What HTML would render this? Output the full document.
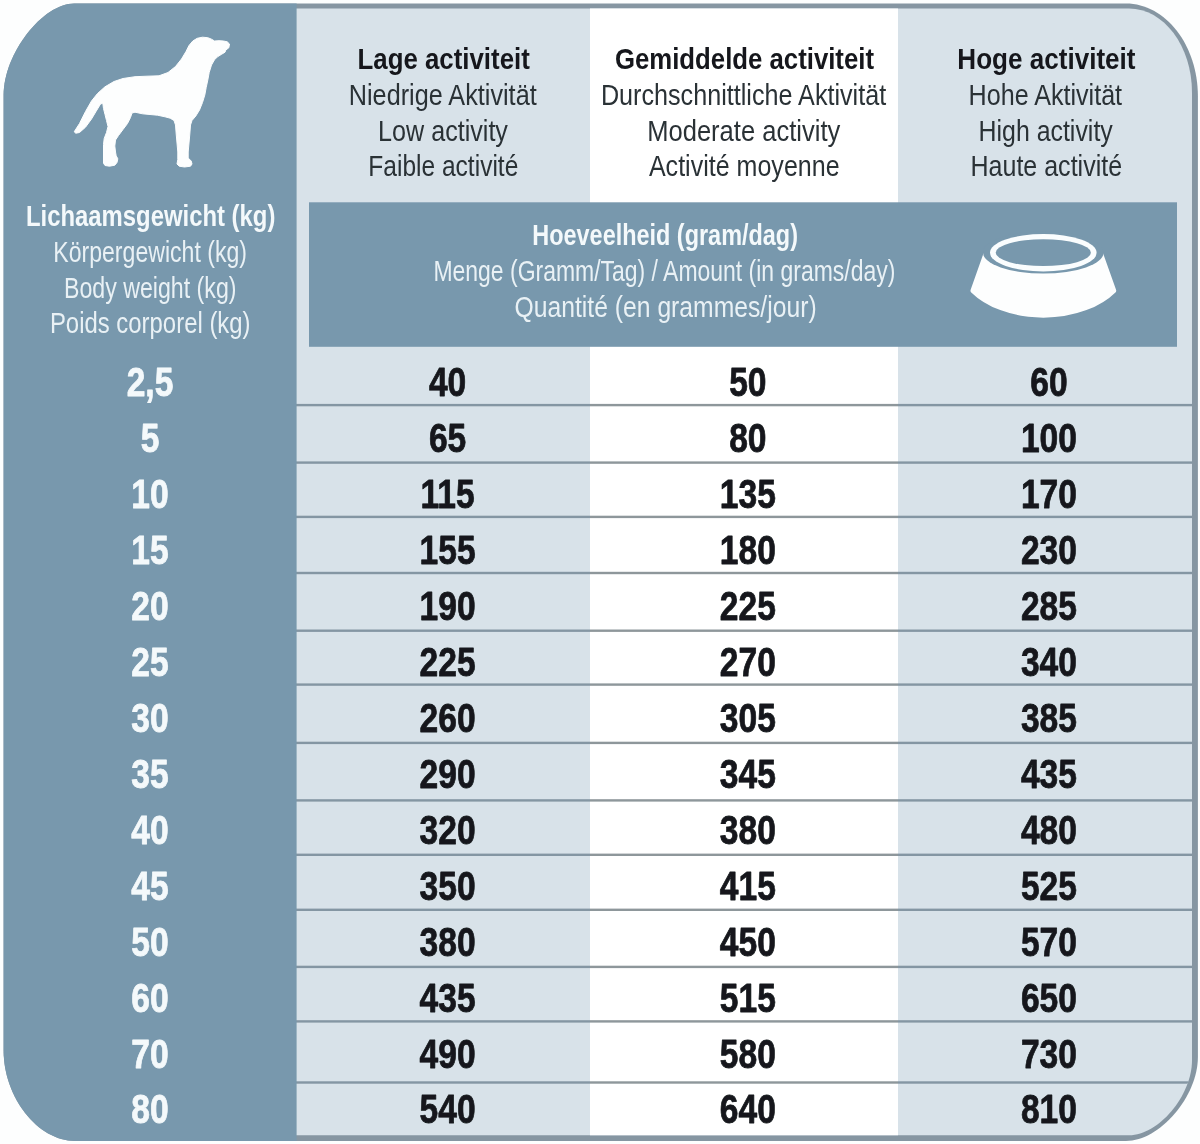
<!DOCTYPE html>
<html><head><meta charset="utf-8"><title>Voedingstabel</title>
<style>html,body{margin:0;padding:0;background:#fdfefe;overflow:hidden;}svg{display:block;font-family:"Liberation Sans",sans-serif;}</style></head><body>
<svg width="1200" height="1144" viewBox="0 0 1200 1144">
<defs><filter id="soft" x="0" y="0" width="1200" height="1144" filterUnits="userSpaceOnUse"><feGaussianBlur stdDeviation="0.55"/></filter></defs>
<g filter="url(#soft)">
<defs><clipPath id="po"><path d="M74.30 3.40 H1125.90 C1165.64 3.40 1197.90 45.06 1197.90 96.40 V1056.90 C1197.90 1096.38 1159.74 1140.90 1125.90 1140.90 H74.90 C37.82 1140.90 3.60 1097.36 3.60 1050.20 V94.90 C3.60 53.73 42.48 3.40 74.30 3.40 Z"/></clipPath><clipPath id="pi"><path d="M70.40 8.50 H1129.00 C1163.78 8.50 1192.00 46.13 1192.00 92.50 V1060.30 C1192.00 1095.55 1158.61 1135.30 1129.00 1135.30 H71.00 C38.60 1135.30 8.70 1096.08 8.70 1053.60 V91.00 C8.70 53.88 42.64 8.50 70.40 8.50 Z"/></clipPath></defs>
<rect width="1200" height="1144" fill="#fdfefe"/>
<path d="M74.30 3.40 H1125.90 C1165.64 3.40 1197.90 45.06 1197.90 96.40 V1056.90 C1197.90 1096.38 1159.74 1140.90 1125.90 1140.90 H74.90 C37.82 1140.90 3.60 1097.36 3.60 1050.20 V94.90 C3.60 53.73 42.48 3.40 74.30 3.40 Z" fill="#8696a2"/>
<g clip-path="url(#pi)">
<rect x="0" y="0" width="1200" height="1144" fill="#d8e2e9"/>
<rect x="590" y="0" width="308" height="1144" fill="#ffffff"/>
<rect x="290" y="403.90" width="300" height="2.4" fill="#8496a3"/>
<rect x="590" y="403.90" width="308" height="2.4" fill="#8e979b"/>
<rect x="898" y="403.90" width="310" height="2.4" fill="#8496a3"/>
<rect x="290" y="461.40" width="300" height="2.4" fill="#8496a3"/>
<rect x="590" y="461.40" width="308" height="2.4" fill="#8e979b"/>
<rect x="898" y="461.40" width="310" height="2.4" fill="#8496a3"/>
<rect x="290" y="515.70" width="300" height="2.4" fill="#8496a3"/>
<rect x="590" y="515.70" width="308" height="2.4" fill="#8e979b"/>
<rect x="898" y="515.70" width="310" height="2.4" fill="#8496a3"/>
<rect x="290" y="571.80" width="300" height="2.4" fill="#8496a3"/>
<rect x="590" y="571.80" width="308" height="2.4" fill="#8e979b"/>
<rect x="898" y="571.80" width="310" height="2.4" fill="#8496a3"/>
<rect x="290" y="629.50" width="300" height="2.4" fill="#8496a3"/>
<rect x="590" y="629.50" width="308" height="2.4" fill="#8e979b"/>
<rect x="898" y="629.50" width="310" height="2.4" fill="#8496a3"/>
<rect x="290" y="683.40" width="300" height="2.4" fill="#8496a3"/>
<rect x="590" y="683.40" width="308" height="2.4" fill="#8e979b"/>
<rect x="898" y="683.40" width="310" height="2.4" fill="#8496a3"/>
<rect x="290" y="741.70" width="300" height="2.4" fill="#8496a3"/>
<rect x="590" y="741.70" width="308" height="2.4" fill="#8e979b"/>
<rect x="898" y="741.70" width="310" height="2.4" fill="#8496a3"/>
<rect x="290" y="799.20" width="300" height="2.4" fill="#8496a3"/>
<rect x="590" y="799.20" width="308" height="2.4" fill="#8e979b"/>
<rect x="898" y="799.20" width="310" height="2.4" fill="#8496a3"/>
<rect x="290" y="853.60" width="300" height="2.4" fill="#8496a3"/>
<rect x="590" y="853.60" width="308" height="2.4" fill="#8e979b"/>
<rect x="898" y="853.60" width="310" height="2.4" fill="#8496a3"/>
<rect x="290" y="908.60" width="300" height="2.4" fill="#8496a3"/>
<rect x="590" y="908.60" width="308" height="2.4" fill="#8e979b"/>
<rect x="898" y="908.60" width="310" height="2.4" fill="#8496a3"/>
<rect x="290" y="965.70" width="300" height="2.4" fill="#8496a3"/>
<rect x="590" y="965.70" width="308" height="2.4" fill="#8e979b"/>
<rect x="898" y="965.70" width="310" height="2.4" fill="#8496a3"/>
<rect x="290" y="1020.20" width="300" height="2.4" fill="#8496a3"/>
<rect x="590" y="1020.20" width="308" height="2.4" fill="#8e979b"/>
<rect x="898" y="1020.20" width="310" height="2.4" fill="#8496a3"/>
<rect x="290" y="1081.30" width="300" height="2.4" fill="#8496a3"/>
<rect x="590" y="1081.30" width="308" height="2.4" fill="#8e979b"/>
<rect x="898" y="1081.30" width="310" height="2.4" fill="#8496a3"/>
<rect x="309" y="202.3" width="868" height="144.5" fill="#7898ad"/>
</g>
<g clip-path="url(#po)"><rect x="0" y="0" width="296.6" height="1144" fill="#7898ad"/></g>
<polygon points="74.2,131.8 79.5,123.5 85.5,111.5 91.5,101.0 97.5,93.5 105.0,86.8 114.0,81.5 123.0,78.5 135.0,76.7 147.0,76.2 159.0,75.8 168.0,72.5 175.5,66.5 181.5,59.0 186.0,51.5 189.0,45.5 192.8,41.0 197.2,38.3 202.5,37.2 207.8,37.7 211.5,39.2 214.5,41.0 219.0,40.7 223.5,41.0 227.2,41.8 229.5,44.0 228.8,47.8 225.8,50.0 225.0,52.2 221.2,54.5 217.5,56.8 214.5,59.8 211.5,65.0 209.2,72.5 207.8,80.0 206.2,87.5 204.8,95.0 202.5,102.5 199.5,110.0 195.8,116.0 192.0,120.5 190.5,125.0 189.8,134.0 189.0,143.0 188.2,152.0 188.2,158.0 191.2,161.0 192.0,164.0 190.5,166.2 184.5,167.0 179.2,166.2 177.0,164.0 177.8,159.5 177.8,152.0 177.0,143.0 176.2,134.0 175.5,125.0 174.0,120.5 170.2,118.2 165.0,116.8 157.5,115.2 150.0,114.5 142.5,113.8 135.0,112.2 132.0,113.0 130.5,117.5 127.5,123.5 123.0,129.5 118.5,135.5 115.5,140.0 114.8,146.0 115.5,152.0 116.2,155.8 117.8,158.8 117.0,162.5 114.8,165.2 109.5,166.2 105.0,165.5 103.5,163.2 103.5,158.0 103.5,152.0 103.5,144.5 104.2,138.5 106.5,132.5 108.0,126.5 106.5,120.5 105.0,114.5 103.5,108.5 102.8,103.2 100.5,104.0 96.0,111.5 91.5,119.0 85.5,127.2 79.5,132.5 75.8,133.2" fill="#fdfefe" stroke="#fdfefe" stroke-width="1" stroke-linejoin="round"/>
<path d="M987 251 L973 290.6 A 84.5 55 0 0 0 1113.7 290.6 L1099.6 251 Z" fill="#fdfefe" stroke="#fdfefe" stroke-width="5" stroke-linejoin="round"/>
<ellipse cx="1043.3" cy="252.4" rx="60.3" ry="21.2" fill="#7898ad"/>
<ellipse cx="1043.3" cy="252.7" rx="53.3" ry="18.7" fill="#fafdfe"/>
<ellipse cx="1043.3" cy="252.7" rx="47.6" ry="13.4" fill="#7898ad"/>
<text transform="translate(357.52 68.80) scale(0.8759 1)" font-size="29.50" font-weight="bold" fill="#14181b">Lage activiteit</text>
<text transform="translate(348.79 104.90) scale(0.8556 1)" font-size="29.50" fill="#293036">Niedrige Aktivität</text>
<text transform="translate(378.10 140.50) scale(0.8519 1)" font-size="29.50" fill="#293036">Low activity</text>
<text transform="translate(368.34 176.00) scale(0.8317 1)" font-size="29.50" fill="#293036">Faible activité</text>
<text transform="translate(614.93 68.80) scale(0.8733 1)" font-size="29.50" font-weight="bold" fill="#14181b">Gemiddelde activiteit</text>
<text transform="translate(600.89 104.90) scale(0.8536 1)" font-size="29.50" fill="#293036">Durchschnittliche Aktivität</text>
<text transform="translate(647.17 140.50) scale(0.8665 1)" font-size="29.50" fill="#293036">Moderate activity</text>
<text transform="translate(648.90 176.00) scale(0.8491 1)" font-size="29.50" fill="#293036">Activité moyenne</text>
<text transform="translate(957.32 68.80) scale(0.8844 1)" font-size="29.50" font-weight="bold" fill="#14181b">Hoge activiteit</text>
<text transform="translate(968.60 104.90) scale(0.8515 1)" font-size="29.50" fill="#293036">Hohe Aktivität</text>
<text transform="translate(978.51 140.50) scale(0.8444 1)" font-size="29.50" fill="#293036">High activity</text>
<text transform="translate(970.50 176.00) scale(0.8484 1)" font-size="29.50" fill="#293036">Haute activité</text>
<text transform="translate(25.99 225.80) scale(0.8095 1)" font-size="29.50" font-weight="bold" fill="#f4f9fb">Lichaamsgewicht (kg)</text>
<text transform="translate(53.23 261.50) scale(0.7832 1)" font-size="29.50" fill="#e9f1f5">Körpergewicht (kg)</text>
<text transform="translate(63.93 297.70) scale(0.7861 1)" font-size="29.50" fill="#e9f1f5">Body weight (kg)</text>
<text transform="translate(49.88 333.10) scale(0.8111 1)" font-size="29.50" fill="#e9f1f5">Poids corporel (kg)</text>
<text transform="translate(532.31 244.50) scale(0.7950 1)" font-size="29.50" font-weight="bold" fill="#f4f9fb">Hoeveelheid (gram/dag)</text>
<text transform="translate(433.44 280.80) scale(0.7787 1)" font-size="29.50" fill="#e9f1f5">Menge (Gramm/Tag) / Amount (in grams/day)</text>
<text transform="translate(514.56 316.80) scale(0.8377 1)" font-size="29.50" fill="#e9f1f5">Quantité (en grammes/jour)</text>
<text transform="translate(150.00 396.00) scale(0.8250 1)" font-size="40.70" font-weight="bold" fill="#f4f9fb" text-anchor="middle" stroke="#f4f9fb" stroke-width="0.8" stroke-linejoin="round">2,5</text>
<text transform="translate(447.60 396.00) scale(0.8250 1)" font-size="40.70" font-weight="bold" fill="#14181b" text-anchor="middle" stroke="#14181b" stroke-width="0.8" stroke-linejoin="round">40</text>
<text transform="translate(747.80 396.00) scale(0.8250 1)" font-size="40.70" font-weight="bold" fill="#14181b" text-anchor="middle" stroke="#14181b" stroke-width="0.8" stroke-linejoin="round">50</text>
<text transform="translate(1048.90 396.00) scale(0.8250 1)" font-size="40.70" font-weight="bold" fill="#14181b" text-anchor="middle" stroke="#14181b" stroke-width="0.8" stroke-linejoin="round">60</text>
<text transform="translate(150.00 451.96) scale(0.8250 1)" font-size="40.70" font-weight="bold" fill="#f4f9fb" text-anchor="middle" stroke="#f4f9fb" stroke-width="0.8" stroke-linejoin="round">5</text>
<text transform="translate(447.60 451.96) scale(0.8250 1)" font-size="40.70" font-weight="bold" fill="#14181b" text-anchor="middle" stroke="#14181b" stroke-width="0.8" stroke-linejoin="round">65</text>
<text transform="translate(747.80 451.96) scale(0.8250 1)" font-size="40.70" font-weight="bold" fill="#14181b" text-anchor="middle" stroke="#14181b" stroke-width="0.8" stroke-linejoin="round">80</text>
<text transform="translate(1048.90 451.96) scale(0.8250 1)" font-size="40.70" font-weight="bold" fill="#14181b" text-anchor="middle" stroke="#14181b" stroke-width="0.8" stroke-linejoin="round">100</text>
<text transform="translate(150.00 507.92) scale(0.8250 1)" font-size="40.70" font-weight="bold" fill="#f4f9fb" text-anchor="middle" stroke="#f4f9fb" stroke-width="0.8" stroke-linejoin="round">10</text>
<text transform="translate(447.60 507.92) scale(0.8250 1)" font-size="40.70" font-weight="bold" fill="#14181b" text-anchor="middle" stroke="#14181b" stroke-width="0.8" stroke-linejoin="round">115</text>
<text transform="translate(747.80 507.92) scale(0.8250 1)" font-size="40.70" font-weight="bold" fill="#14181b" text-anchor="middle" stroke="#14181b" stroke-width="0.8" stroke-linejoin="round">135</text>
<text transform="translate(1048.90 507.92) scale(0.8250 1)" font-size="40.70" font-weight="bold" fill="#14181b" text-anchor="middle" stroke="#14181b" stroke-width="0.8" stroke-linejoin="round">170</text>
<text transform="translate(150.00 563.88) scale(0.8250 1)" font-size="40.70" font-weight="bold" fill="#f4f9fb" text-anchor="middle" stroke="#f4f9fb" stroke-width="0.8" stroke-linejoin="round">15</text>
<text transform="translate(447.60 563.88) scale(0.8250 1)" font-size="40.70" font-weight="bold" fill="#14181b" text-anchor="middle" stroke="#14181b" stroke-width="0.8" stroke-linejoin="round">155</text>
<text transform="translate(747.80 563.88) scale(0.8250 1)" font-size="40.70" font-weight="bold" fill="#14181b" text-anchor="middle" stroke="#14181b" stroke-width="0.8" stroke-linejoin="round">180</text>
<text transform="translate(1048.90 563.88) scale(0.8250 1)" font-size="40.70" font-weight="bold" fill="#14181b" text-anchor="middle" stroke="#14181b" stroke-width="0.8" stroke-linejoin="round">230</text>
<text transform="translate(150.00 619.84) scale(0.8250 1)" font-size="40.70" font-weight="bold" fill="#f4f9fb" text-anchor="middle" stroke="#f4f9fb" stroke-width="0.8" stroke-linejoin="round">20</text>
<text transform="translate(447.60 619.84) scale(0.8250 1)" font-size="40.70" font-weight="bold" fill="#14181b" text-anchor="middle" stroke="#14181b" stroke-width="0.8" stroke-linejoin="round">190</text>
<text transform="translate(747.80 619.84) scale(0.8250 1)" font-size="40.70" font-weight="bold" fill="#14181b" text-anchor="middle" stroke="#14181b" stroke-width="0.8" stroke-linejoin="round">225</text>
<text transform="translate(1048.90 619.84) scale(0.8250 1)" font-size="40.70" font-weight="bold" fill="#14181b" text-anchor="middle" stroke="#14181b" stroke-width="0.8" stroke-linejoin="round">285</text>
<text transform="translate(150.00 675.80) scale(0.8250 1)" font-size="40.70" font-weight="bold" fill="#f4f9fb" text-anchor="middle" stroke="#f4f9fb" stroke-width="0.8" stroke-linejoin="round">25</text>
<text transform="translate(447.60 675.80) scale(0.8250 1)" font-size="40.70" font-weight="bold" fill="#14181b" text-anchor="middle" stroke="#14181b" stroke-width="0.8" stroke-linejoin="round">225</text>
<text transform="translate(747.80 675.80) scale(0.8250 1)" font-size="40.70" font-weight="bold" fill="#14181b" text-anchor="middle" stroke="#14181b" stroke-width="0.8" stroke-linejoin="round">270</text>
<text transform="translate(1048.90 675.80) scale(0.8250 1)" font-size="40.70" font-weight="bold" fill="#14181b" text-anchor="middle" stroke="#14181b" stroke-width="0.8" stroke-linejoin="round">340</text>
<text transform="translate(150.00 731.76) scale(0.8250 1)" font-size="40.70" font-weight="bold" fill="#f4f9fb" text-anchor="middle" stroke="#f4f9fb" stroke-width="0.8" stroke-linejoin="round">30</text>
<text transform="translate(447.60 731.76) scale(0.8250 1)" font-size="40.70" font-weight="bold" fill="#14181b" text-anchor="middle" stroke="#14181b" stroke-width="0.8" stroke-linejoin="round">260</text>
<text transform="translate(747.80 731.76) scale(0.8250 1)" font-size="40.70" font-weight="bold" fill="#14181b" text-anchor="middle" stroke="#14181b" stroke-width="0.8" stroke-linejoin="round">305</text>
<text transform="translate(1048.90 731.76) scale(0.8250 1)" font-size="40.70" font-weight="bold" fill="#14181b" text-anchor="middle" stroke="#14181b" stroke-width="0.8" stroke-linejoin="round">385</text>
<text transform="translate(150.00 787.72) scale(0.8250 1)" font-size="40.70" font-weight="bold" fill="#f4f9fb" text-anchor="middle" stroke="#f4f9fb" stroke-width="0.8" stroke-linejoin="round">35</text>
<text transform="translate(447.60 787.72) scale(0.8250 1)" font-size="40.70" font-weight="bold" fill="#14181b" text-anchor="middle" stroke="#14181b" stroke-width="0.8" stroke-linejoin="round">290</text>
<text transform="translate(747.80 787.72) scale(0.8250 1)" font-size="40.70" font-weight="bold" fill="#14181b" text-anchor="middle" stroke="#14181b" stroke-width="0.8" stroke-linejoin="round">345</text>
<text transform="translate(1048.90 787.72) scale(0.8250 1)" font-size="40.70" font-weight="bold" fill="#14181b" text-anchor="middle" stroke="#14181b" stroke-width="0.8" stroke-linejoin="round">435</text>
<text transform="translate(150.00 843.68) scale(0.8250 1)" font-size="40.70" font-weight="bold" fill="#f4f9fb" text-anchor="middle" stroke="#f4f9fb" stroke-width="0.8" stroke-linejoin="round">40</text>
<text transform="translate(447.60 843.68) scale(0.8250 1)" font-size="40.70" font-weight="bold" fill="#14181b" text-anchor="middle" stroke="#14181b" stroke-width="0.8" stroke-linejoin="round">320</text>
<text transform="translate(747.80 843.68) scale(0.8250 1)" font-size="40.70" font-weight="bold" fill="#14181b" text-anchor="middle" stroke="#14181b" stroke-width="0.8" stroke-linejoin="round">380</text>
<text transform="translate(1048.90 843.68) scale(0.8250 1)" font-size="40.70" font-weight="bold" fill="#14181b" text-anchor="middle" stroke="#14181b" stroke-width="0.8" stroke-linejoin="round">480</text>
<text transform="translate(150.00 899.64) scale(0.8250 1)" font-size="40.70" font-weight="bold" fill="#f4f9fb" text-anchor="middle" stroke="#f4f9fb" stroke-width="0.8" stroke-linejoin="round">45</text>
<text transform="translate(447.60 899.64) scale(0.8250 1)" font-size="40.70" font-weight="bold" fill="#14181b" text-anchor="middle" stroke="#14181b" stroke-width="0.8" stroke-linejoin="round">350</text>
<text transform="translate(747.80 899.64) scale(0.8250 1)" font-size="40.70" font-weight="bold" fill="#14181b" text-anchor="middle" stroke="#14181b" stroke-width="0.8" stroke-linejoin="round">415</text>
<text transform="translate(1048.90 899.64) scale(0.8250 1)" font-size="40.70" font-weight="bold" fill="#14181b" text-anchor="middle" stroke="#14181b" stroke-width="0.8" stroke-linejoin="round">525</text>
<text transform="translate(150.00 955.60) scale(0.8250 1)" font-size="40.70" font-weight="bold" fill="#f4f9fb" text-anchor="middle" stroke="#f4f9fb" stroke-width="0.8" stroke-linejoin="round">50</text>
<text transform="translate(447.60 955.60) scale(0.8250 1)" font-size="40.70" font-weight="bold" fill="#14181b" text-anchor="middle" stroke="#14181b" stroke-width="0.8" stroke-linejoin="round">380</text>
<text transform="translate(747.80 955.60) scale(0.8250 1)" font-size="40.70" font-weight="bold" fill="#14181b" text-anchor="middle" stroke="#14181b" stroke-width="0.8" stroke-linejoin="round">450</text>
<text transform="translate(1048.90 955.60) scale(0.8250 1)" font-size="40.70" font-weight="bold" fill="#14181b" text-anchor="middle" stroke="#14181b" stroke-width="0.8" stroke-linejoin="round">570</text>
<text transform="translate(150.00 1011.56) scale(0.8250 1)" font-size="40.70" font-weight="bold" fill="#f4f9fb" text-anchor="middle" stroke="#f4f9fb" stroke-width="0.8" stroke-linejoin="round">60</text>
<text transform="translate(447.60 1011.56) scale(0.8250 1)" font-size="40.70" font-weight="bold" fill="#14181b" text-anchor="middle" stroke="#14181b" stroke-width="0.8" stroke-linejoin="round">435</text>
<text transform="translate(747.80 1011.56) scale(0.8250 1)" font-size="40.70" font-weight="bold" fill="#14181b" text-anchor="middle" stroke="#14181b" stroke-width="0.8" stroke-linejoin="round">515</text>
<text transform="translate(1048.90 1011.56) scale(0.8250 1)" font-size="40.70" font-weight="bold" fill="#14181b" text-anchor="middle" stroke="#14181b" stroke-width="0.8" stroke-linejoin="round">650</text>
<text transform="translate(150.00 1067.52) scale(0.8250 1)" font-size="40.70" font-weight="bold" fill="#f4f9fb" text-anchor="middle" stroke="#f4f9fb" stroke-width="0.8" stroke-linejoin="round">70</text>
<text transform="translate(447.60 1067.52) scale(0.8250 1)" font-size="40.70" font-weight="bold" fill="#14181b" text-anchor="middle" stroke="#14181b" stroke-width="0.8" stroke-linejoin="round">490</text>
<text transform="translate(747.80 1067.52) scale(0.8250 1)" font-size="40.70" font-weight="bold" fill="#14181b" text-anchor="middle" stroke="#14181b" stroke-width="0.8" stroke-linejoin="round">580</text>
<text transform="translate(1048.90 1067.52) scale(0.8250 1)" font-size="40.70" font-weight="bold" fill="#14181b" text-anchor="middle" stroke="#14181b" stroke-width="0.8" stroke-linejoin="round">730</text>
<text transform="translate(150.00 1122.88) scale(0.8250 1)" font-size="40.70" font-weight="bold" fill="#f4f9fb" text-anchor="middle" stroke="#f4f9fb" stroke-width="0.8" stroke-linejoin="round">80</text>
<text transform="translate(447.60 1122.88) scale(0.8250 1)" font-size="40.70" font-weight="bold" fill="#14181b" text-anchor="middle" stroke="#14181b" stroke-width="0.8" stroke-linejoin="round">540</text>
<text transform="translate(747.80 1122.88) scale(0.8250 1)" font-size="40.70" font-weight="bold" fill="#14181b" text-anchor="middle" stroke="#14181b" stroke-width="0.8" stroke-linejoin="round">640</text>
<text transform="translate(1048.90 1122.88) scale(0.8250 1)" font-size="40.70" font-weight="bold" fill="#14181b" text-anchor="middle" stroke="#14181b" stroke-width="0.8" stroke-linejoin="round">810</text>
</g></svg></body></html>
